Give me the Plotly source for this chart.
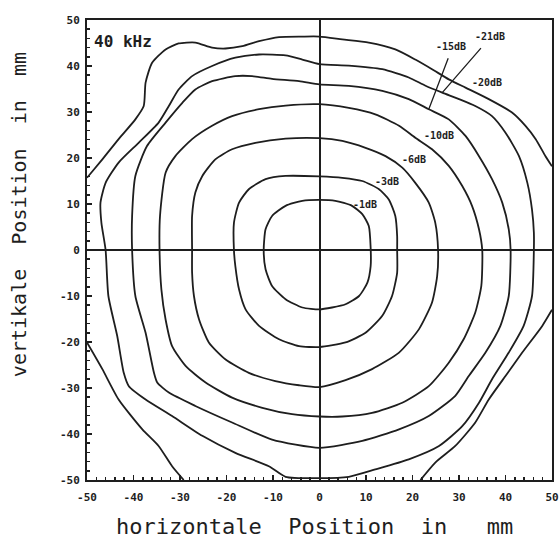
import plotly.graph_objects as go

# ---- data (mm) ----
C1_X = [-12.0, -11.6, -10.2, -7.3, -3.7, 0, 3.4, 7.0, 9.2, 10.6, 11.0, 11.0, 10.3, 8.5, 5.6, 2.7, 0, -3.7, -7.3, -10.2, -11.6, -12.0]
C1_Y = [0, 4.5, 7.4, 9.6, 10.7, 10.9, 10.7, 9.6, 7.8, 5.2, 0.5, -3.5, -7.1, -10.0, -11.8, -12.5, -12.9, -12.5, -10.7, -7.8, -4.2, 0]

C2_X = [-18.4, -18.4, -17.3, -15.2, -11.6, -7.3, 0, 4.9, 9.2, 12.8, 14.9, 16.3, 16.7, 16.7, 16.7, 15.6, 13.5, 9.9, 5.6, 0, -4.4, -8.7, -13.0, -15.9, -17.3, -18.1, -18.4]
C2_Y = [0, 5.9, 10.3, 13.2, 15.4, 16.1, 16.0, 15.7, 15.0, 13.2, 11.0, 7.4, 3.0, 0, -4.9, -10.0, -14.3, -18.0, -20.1, -21.1, -20.9, -19.4, -16.5, -12.9, -8.6, -3.5, 0]

C3_X = [-27.4, -27.4, -26.7, -25.2, -22.4, -18.8, -13.8, -7.3, 0, 4.9, 9.9, 14.2, 17.8, 20.6, 23.5, 24.9, 25.5, 25.3, 24.2, 21.4, 17.1, 11.3, 5.6, 0, -4.4, -9.5, -15.2, -20.2, -23.8, -25.9, -27.0, -27.4, -27.4]
C3_Y = [0, 7.4, 12.5, 16.1, 19.7, 21.9, 23.3, 24.2, 24.3, 23.7, 22.2, 20.4, 17.9, 14.6, 10.3, 5.9, 0, -5.7, -11.4, -17.2, -22.3, -25.9, -28.3, -29.8, -29.4, -28.5, -26.7, -23.8, -20.1, -15.1, -10.0, -4.9, 0]

C4_X = [-34.4, -34.3, -33.1, -31.0, -27.4, -23.1, -18.8, -13.0, -7.3, 0, 6.3, 12.0, 17.1, 20.6, 24.2, 27.8, 30.7, 32.8, 34.3, 35.0,
        34.8, 33.5, 31.0, 27.8, 23.5, 17.8, 11.3, 4.9, 0, -5.9, -12.3, -18.8, -24.5, -28.8, -31.7, -33.1, -34.0, -34.4]
C4_Y = [0, 7.4, 16.8, 20.4, 24.1, 27.0, 29.1, 30.6, 31.4, 31.7, 30.9, 29.5, 27.0, 24.4, 21.9, 18.3, 13.9, 9.6, 4.5, 0,
        -7.8, -13.6, -19.4, -24.5, -29.6, -33.2, -35.4, -36.2, -36.2, -35.7, -34.3, -32.1, -28.8, -25.2, -20.9, -15.1, -8.6, 0]

C5_X = [-40.3, -40.3, -39.6, -37.1, -33.1, -29.5, -26.7, -23.1, -18.1, -14.5, -10.2, -4.4, 0, 6.3, 13.5, 19.2, 23.5, 27.8, 31.4, 34.3, 37.1, 39.3, 40.7, 41.1,
        40.7, 38.9, 35.7, 32.1, 29.2, 23.5, 17.1, 9.2, 0, -10.2, -18.8, -26.7, -32.4, -34.9, -35.6, -37.4, -39.6, -40.3]
C5_Y = [0, 7.4, 16.1, 22.6, 27.7, 32.0, 34.9, 36.7, 37.8, 37.8, 37.2, 36.7, 36.0, 35.7, 34.6, 32.8, 30.6, 28.4, 24.8, 20.4, 15.4, 10.3, 4.5, 0,
        -10.0, -16.5, -22.3, -27.4, -31.7, -36.1, -39.0, -41.5, -43.0, -41.2, -37.5, -33.9, -31.0, -28.8, -26.7, -18.0, -10.0, 0]

C6_X = [-46.0, -46.9, -47.1, -46.0, -43.2, -38.9, -34.6, -32.4, -30.3, -27.4, -23.1, -18.1, -13.0, -7.3, -3.7, 0,
        6.3, 13.5, 19.2, 22.8, 26.4, 30.0, 33.5, 37.1, 40.0, 42.9, 44.7, 45.7, 46.1, 46.1,
        45.7, 43.9, 40.7, 37.1, 34.3, 30.7, 25.7, 19.2, 12.0, 6.3, 0,
        -7.3, -10.9, -18.1, -25.2, -31.7, -37.4, -41.0, -42.1, -43.5, -45.4, -46.0]
C6_Y = [0, 5.9, 10.3, 14.6, 19.0, 23.3, 27.7, 31.3, 34.9, 37.8, 40.0, 41.8, 42.5, 42.3, 41.4, 40.4,
        40.1, 39.3, 37.5, 35.7, 34.2, 32.8, 31.3, 29.1, 25.5, 20.4, 14.6, 8.8, 3.8, 0,
        -10.0, -16.5, -22.3, -28.1, -33.2, -38.3, -42.6, -45.5, -47.7, -49.3, -49.6,
        -49.3, -47.0, -44.1, -40.4, -36.1, -32.5, -29.6, -26.7, -18.7, -10.0, 0]

# outermost contour leaves the frame: three pieces
C7A_X = [-50.0, -46.7, -43.2, -39.6, -37.8, -37.4, -36.0, -33.1, -30.3, -26.7, -23.1, -20.2, -16.6, -13.0, -8.7, -3.7, 0,
         4.9, 10.6, 16.3, 20.6, 24.2, 27.8, 31.4, 36.4, 41.4, 44.3, 46.5, 48.6, 50.0]
C7A_Y = [15.7, 19.7, 24.1, 28.4, 31.3, 36.4, 40.7, 43.6, 44.9, 45.1, 44.0, 43.8, 44.3, 45.4, 46.3, 46.4, 46.4,
         45.8, 45.1, 43.6, 41.4, 39.3, 37.1, 35.3, 32.8, 29.9, 27.0, 24.1, 20.4, 18.2]
C7B_X = [50.0, 47.9, 43.6, 40.0, 36.4, 33.5, 29.2, 24.9, 21.7]
C7B_Y = [-13.0, -16.5, -22.3, -27.4, -32.5, -37.5, -42.6, -46.2, -50.0]
C7C_X = [-29.2, -31.7, -34.6, -38.1, -43.2, -46.7, -50.0]
C7C_Y = [-50.0, -47.0, -42.6, -39.0, -32.5, -25.9, -20.1]

TICKS = [-50, -40, -30, -20, -10, 0, 10, 20, 30, 40, 50]
LEVEL_LABELS = ["-1dB", "-3dB", "-6dB", "-10dB", "-15dB", "-21dB", "-20dB"]

INK = "#1e1e1e"
LW = 1.8

fig = go.Figure()
contours = [(C1_X, C1_Y), (C2_X, C2_Y), (C3_X, C3_Y), (C4_X, C4_Y), (C5_X, C5_Y), (C6_X, C6_Y)]
for cx, cy in contours:
    fig.add_trace(go.Scatter(x=cx, y=cy, mode="lines",
                             line=dict(color=INK, width=LW, shape="spline", smoothing=0.6),
                             showlegend=False, hoverinfo="skip"))
c7x = C7A_X + [None] + C7B_X + [None] + C7C_X
c7y = C7A_Y + [None] + C7B_Y + [None] + C7C_Y
fig.add_trace(go.Scatter(x=c7x, y=c7y, mode="lines", connectgaps=False,
                         line=dict(color=INK, width=LW, shape="spline", smoothing=0.6),
                         showlegend=False, hoverinfo="skip"))

lab_font = dict(family="DejaVu Sans Mono", size=10, color=INK, weight="bold")
label_pos = [(9.7, 9.8), (14.6, 14.9), (20.3, 19.6), (25.6, 24.8), (28.2, 44.2), (36.6, 46.5), (36.0, 36.4)]
for txt, (lx, ly) in zip(LEVEL_LABELS, label_pos):
    fig.add_annotation(x=lx, y=ly, text=txt, showarrow=False, font=lab_font, xanchor="center", yanchor="middle")

# leader lines to contours
fig.add_annotation(x=C5_X[16], y=C5_Y[16], ax=27.8, ay=42.0, axref="x", ayref="y", xref="x", yref="y",
                   text="", showarrow=True, arrowhead=0, arrowwidth=1.3, arrowcolor=INK)
fig.add_annotation(x=C6_X[20], y=C6_Y[20], ax=35.0, ay=44.2, axref="x", ayref="y", xref="x", yref="y",
                   text="", showarrow=True, arrowhead=0, arrowwidth=1.3, arrowcolor=INK)

fig.add_annotation(x=-42.3, y=45.3, text="40 kHz", showarrow=False,
                   font=dict(family="DejaVu Sans Mono", size=16, color=INK, weight="bold"))

title_font = dict(family="DejaVu Sans Mono", size=22, color=INK)
fig.add_annotation(xref="paper", yref="paper", x=0.49, y=-0.1, text="horizontale  Position  in   mm",
                   showarrow=False, font=title_font, xanchor="center", yanchor="middle")
fig.add_annotation(xref="paper", yref="paper", x=-0.146, y=0.576, text="vertikale  Position  in  mm",
                   showarrow=False, font=dict(family="DejaVu Sans Mono", size=20, color=INK),
                   textangle=-90, xanchor="center", yanchor="middle")

tick_font = dict(family="DejaVu Sans Mono", size=11, color=INK, weight="bold")
axis_common = dict(range=[-50, 50], tickvals=TICKS, ticktext=[str(t) for t in TICKS],
                   showline=True, mirror=True, linecolor=INK, linewidth=2,
                   zeroline=True, zerolinecolor=INK, zerolinewidth=2, showgrid=False,
                   ticks="inside", ticklen=5, tickwidth=1.5, tickcolor=INK, tickfont=tick_font,
                   minor=dict(ticks="inside", ticklen=3, tickcolor=INK, dtick=2, showgrid=False),
                   fixedrange=True, automargin=False)
fig.update_xaxes(**axis_common, ticklabelstandoff=6)
fig.update_yaxes(**axis_common, ticklabelstandoff=3)

fig.update_layout(template="none", width=559, height=541, margin=dict(l=87, r=7, t=20, b=61),
                  plot_bgcolor="white", paper_bgcolor="white", showlegend=False)

fig.write_html("out.html", config={"displayModeBar": False, "staticPlot": True},
               post_script="document.body.style.margin='0';document.body.style.overflow='hidden';")
